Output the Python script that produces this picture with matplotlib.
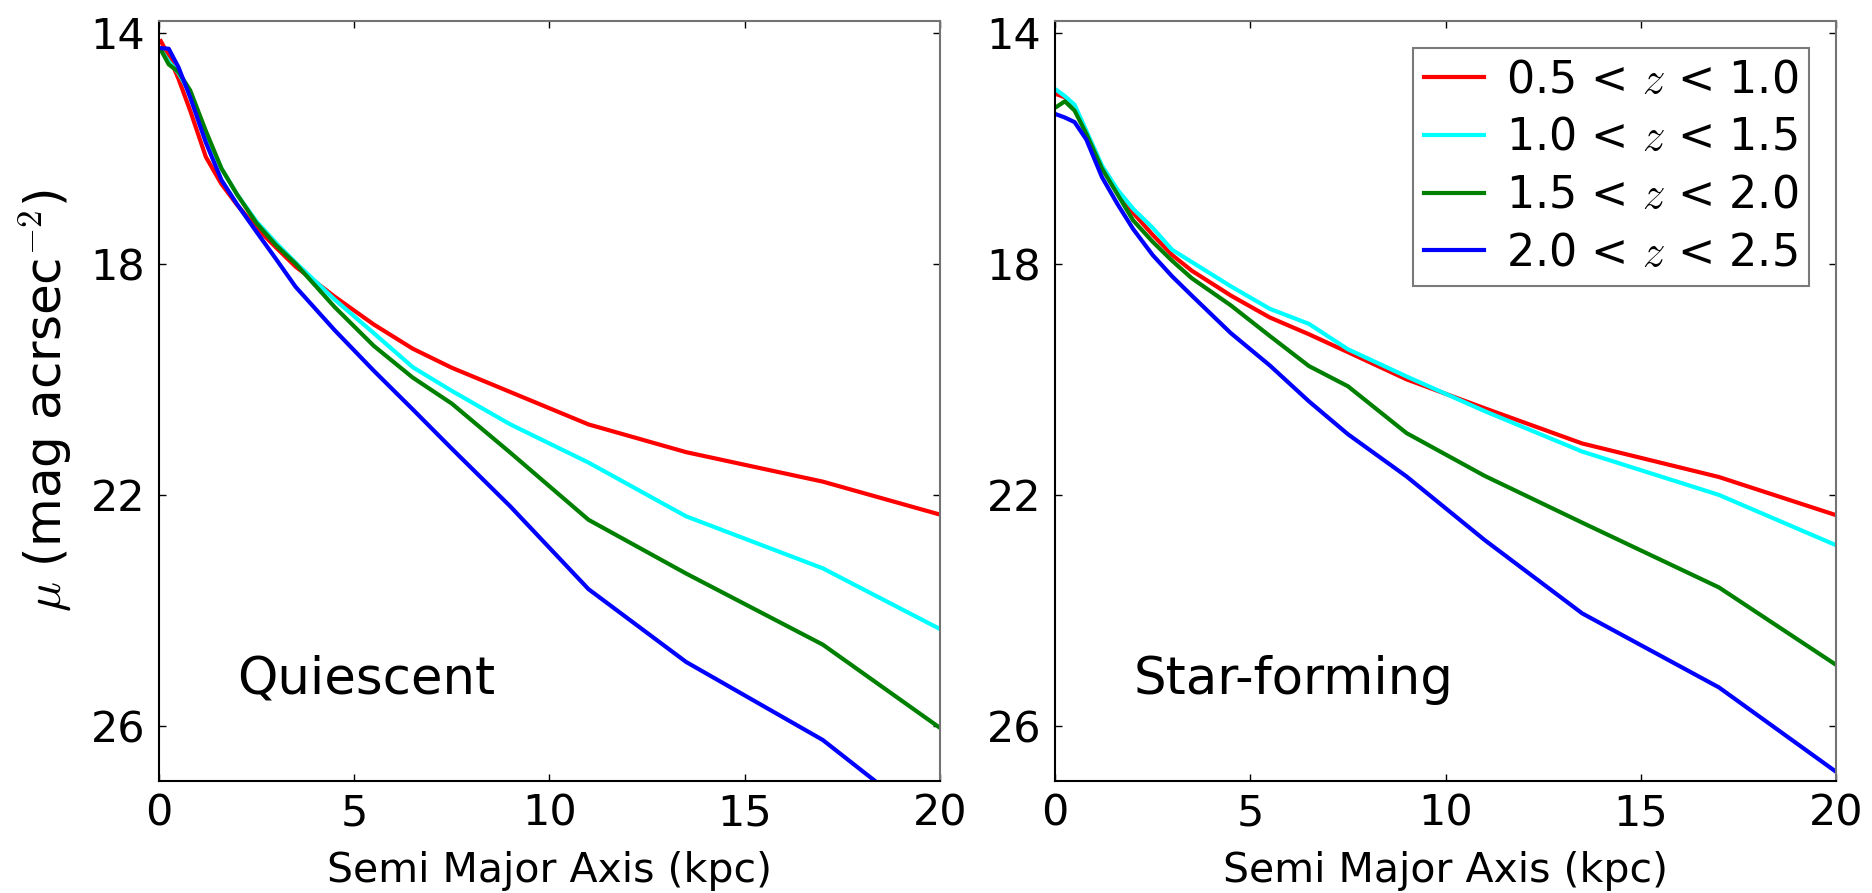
import numpy as np
import matplotlib
matplotlib.use("Agg")
import matplotlib.pyplot as plt

plt.rcParams['font.family'] = ['DejaVu Sans']
plt.rcParams['mathtext.fontset'] = 'cm'

# radius grid (kpc)
r = [0.05, 0.25, 0.5, 0.8, 1.2, 1.6, 2.0, 2.5, 3.0, 3.5, 4.5, 5.5, 6.5, 7.5, 9, 11, 13.5, 17, 20]

labels = [r'0.5 < $z$ < 1.0', r'1.0 < $z$ < 1.5', r'1.5 < $z$ < 2.0', r'2.0 < $z$ < 2.5']
colors = ['#ff0000', '#00ffff', '#008000', '#0000ff']

# Quiescent profiles (mag arcsec^-2)
q_z1 = [14.15, 14.4, 14.8, 15.35, 16.15, 16.62, 16.98, 17.38, 17.72, 18.05, 18.57, 19.05, 19.47, 19.8, 20.22, 20.78, 21.26, 21.77, 22.34]
q_z2 = [14.3, 14.5, 14.7, 15.05, 15.75, 16.35, 16.8, 17.27, 17.64, 17.98, 18.62, 19.2, 19.79, 20.2, 20.78, 21.44, 22.37, 23.27, 24.32]
q_z3 = [14.3, 14.55, 14.68, 15.0, 15.7, 16.35, 16.8, 17.3, 17.68, 18.0, 18.75, 19.42, 19.97, 20.42, 21.27, 22.43, 23.36, 24.59, 26.03]
q_z4 = [14.27, 14.28, 14.6, 15.12, 15.9, 16.55, 16.97, 17.45, 17.92, 18.4, 19.15, 19.85, 20.52, 21.2, 22.2, 23.63, 24.89, 26.24, 27.83]

# Star-forming profiles
sf_z1 = [15.07, 15.12, 15.28, 15.72, 16.32, 16.75, 17.12, 17.5, 17.85, 18.12, 18.55, 18.93, 19.22, 19.53, 20.0, 20.5, 21.11, 21.69, 22.35]
sf_z2 = [15.0, 15.1, 15.25, 15.7, 16.3, 16.72, 17.05, 17.38, 17.76, 17.97, 18.39, 18.78, 19.04, 19.48, 19.95, 20.55, 21.25, 22.0, 22.87]
sf_z3 = [15.28, 15.19, 15.35, 15.75, 16.35, 16.8, 17.25, 17.62, 17.95, 18.25, 18.72, 19.25, 19.77, 20.12, 20.93, 21.67, 22.48, 23.6, 24.94]
sf_z4 = [15.42, 15.47, 15.55, 15.85, 16.5, 16.97, 17.4, 17.85, 18.22, 18.55, 19.2, 19.76, 20.38, 20.95, 21.68, 22.78, 24.05, 25.33, 26.79]

quiescent = [q_z1, q_z2, q_z3, q_z4]
starforming = [sf_z1, sf_z2, sf_z3, sf_z4]

fig = plt.figure(figsize=(18.72, 8.93), dpi=100)
ax1 = fig.add_axes([0.0849, 0.1254, 0.4172, 0.8511])
ax2 = fig.add_axes([0.5636, 0.1254, 0.4172, 0.8511])

for ax, profiles, name in [(ax1, quiescent, 'Quiescent'), (ax2, starforming, 'Star-forming')]:
    for prof, c, lab in zip(profiles, colors, labels):
        ax.plot(r, prof, color=c, lw=3, label=lab)
    ax.set_xlim(0, 20)
    ax.set_ylim(26.95, 13.8)
    ax.set_xticks([0, 5, 10, 15, 20])
    ax.set_yticks([14, 18, 22, 26])
    ax.tick_params(direction='in', top=True, right=True, length=5, width=1, labelsize=31)
    ax.tick_params(axis='x', pad=8)
    ax.tick_params(axis='y', pad=10)
    for side in ['left', 'bottom']:
        ax.spines[side].set_linewidth(1.5)
        ax.spines[side].set_color('black')
    for side in ['top', 'right']:
        ax.spines[side].set_linewidth(1.5)
        ax.spines[side].set_color('0.45')
    ax.set_xlabel('Semi Major Axis (kpc)', fontsize=29.5, labelpad=12)
    ax.text(2.0, 25.2, name, fontsize=37, ha='left', va='center')

ax1.set_ylabel(r'$\mu$ (mag acrsec$^{-2}$)', fontsize=36, labelpad=12)

leg = ax2.legend(loc='upper right', fontsize=32, handlelength=1.35, labelspacing=0.33,
                 fancybox=False, borderaxespad=0.6, handletextpad=0.5, borderpad=0.25)
leg.get_frame().set_edgecolor('0.35')
leg.get_frame().set_linewidth(1.5)

fig.savefig('out.png', dpi=100)
